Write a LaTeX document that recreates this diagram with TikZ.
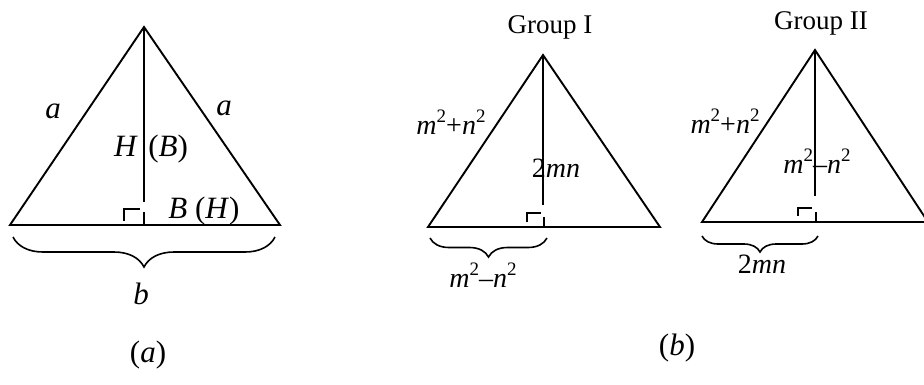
\documentclass[tikz,border=0pt]{standalone}
\usepackage{fontspec}
\setmainfont{Liberation Serif}
\usetikzlibrary{decorations.pathreplacing}
\newcommand{\sq}{\raisebox{0.42em}{\fontsize{19}{19}\selectfont 2}}
\begin{document}
\begin{tikzpicture}[x=1pt,y=-1pt,
  edge/.style={line width=1.9pt},
  thin/.style={line width=1.7pt},
  lbl/.style={inner sep=0pt,font=\fontsize{31}{33}\selectfont},
  mlbl/.style={inner sep=0pt,font=\fontsize{28}{30}\selectfont},
  glbl/.style={inner sep=0pt,font=\fontsize{27}{29}\selectfont},
  brc/.style={line width=1.6pt,decorate,decoration={brace,mirror,amplitude=30pt,aspect=0.5}}]
\useasboundingbox (0,0) rectangle (924,384);
\clip (0,0) rectangle (924,384);
% ---------- (a)
\coordinate (A1) at (144,27);
\coordinate (B1) at (10,225);
\coordinate (C1) at (280,225);
\coordinate (F1) at (144,225);
\draw[edge,line join=miter] (B1) -- (A1) -- (C1) -- cycle;
\draw[thin] (A1) -- (144,202);
\draw[thin] (124,221) -- (124,209) -- (140,209);
\draw[thin] (144,212) -- (F1);
\node[lbl] (la1) at (53,111) {\textit{a}};
\node[lbl] (la2) at (224,108) {\textit{a}};
\node[lbl] (lhb) at (151,149) {\textit{H}\,\,(\textit{B})};
\node[lbl] (lbh) at (204,211) {\textit{B} (\textit{H})};
\draw[brc] (13,237) -- (275,237);
\node[lbl] (lb) at (141,294) {\textit{b}};
\node[lbl] (capa) at (148,355) {(\textit{a})};
% ---------- Group I
\coordinate (A2) at (543,55);
\coordinate (B2) at (428,227);
\coordinate (C2) at (660,227);
\coordinate (F2) at (543,227);
\draw[edge,line join=miter] (B2) -- (A2) -- (C2) -- cycle;
\draw[thin] (A2) -- (543,205);
\draw[thin] (527,222) -- (527,213) -- (541,213);
\draw[thin] (544,217) -- (544,227);
\node[glbl] (g1) at (550,27) {Group I};
\node[mlbl] (s1) at (451,122) {\textit{m}\sq+\textit{n}\sq};
\node[mlbl] (h1) at (556,168) {2\textit{mn}};
\draw[brc,decoration={amplitude=19pt}] (430,238) -- (547,238);
\node[mlbl] (d1) at (483,275) {\textit{m}\sq–\textit{n}\sq};
% ---------- Group II
\coordinate (A3) at (815,50);
\coordinate (B3) at (702,222);
\coordinate (C3) at (928,222);
\coordinate (F3) at (815,222);
\draw[edge,line join=miter] (B3) -- (A3) -- (C3) -- cycle;
\draw[thin] (A3) -- (815,196);
\draw[thin] (798,216) -- (798,208) -- (812,208);
\draw[thin] (816,212) -- (816,222);
\node[glbl] (g2) at (821,23) {Group II};
\node[mlbl] (s2) at (725,121) {\textit{m}\sq+\textit{n}\sq};
\node[mlbl] (h2) at (817,161) {\textit{m}\sq–\textit{n}\sq};
\draw[brc,decoration={amplitude=16pt}] (702,236) -- (818,236);
\node[mlbl] (d2) at (762,264) {2\textit{mn}};
\node[lbl] (capb) at (677,348) {(\textit{b})};
\end{tikzpicture}
\end{document}
